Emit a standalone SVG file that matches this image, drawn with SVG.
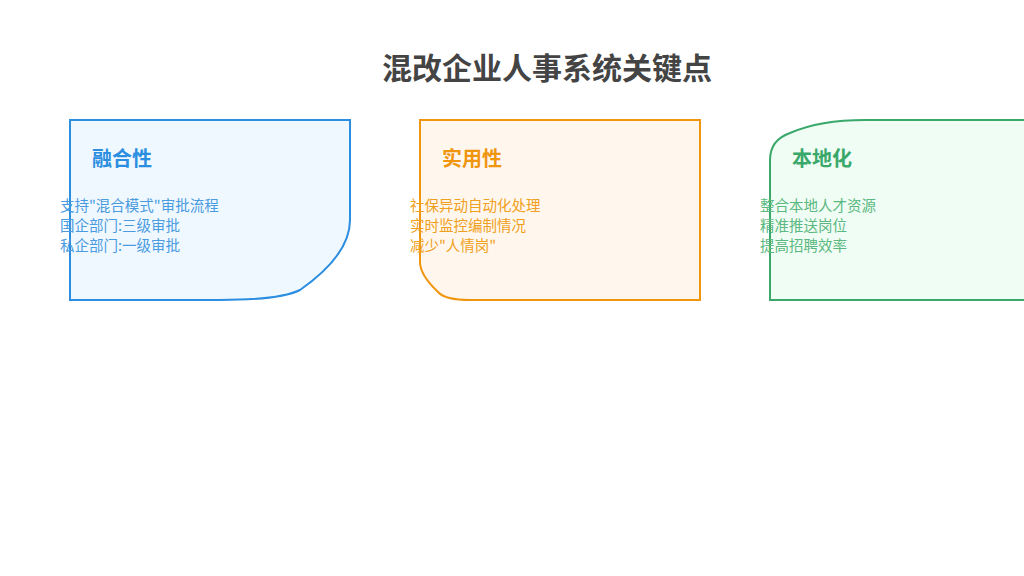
<svg xmlns="http://www.w3.org/2000/svg" width="1024" height="576" viewBox="0 0 1024 576">
<style>
text{font-family:"Noto Sans CJK SC","Noto Sans",sans-serif}
.t{font-size:30px;font-weight:bold;fill:#444}
.h{font-size:20px;font-weight:bold}
.b{font-size:14.5px}
.s{stroke-width:2}
</style>
<rect width="1024" height="576" fill="#fff"/>
<text class="t" x="547" y="79" text-anchor="middle">混改企业人事系统关键点</text>
<g id="n1">
<path class="s" d="M70,120 H350 V220 Q350,255 300,290 Q280,300 220,300 H70 Z" fill="#f0f8ff" stroke="#2b8ee0"/>
<text class="h" x="92" y="166" fill="#2b8ee0">融合性</text>
<g class="b" fill="#4a9be0"><text x="60" y="211">支持"混合模式"审批流程</text><text x="60" y="231">国企部门:三级审批</text><text x="60" y="251">私企部门:一级审批</text></g>
</g>
<g id="n2">
<path class="s" d="M420,120 H700 V300 H470 Q445,300 438,292 Q420,275 420,262 Z" fill="#fff7ee" stroke="#f0950e"/>
<text class="h" x="442" y="166" fill="#f0950e">实用性</text>
<g class="b" fill="#f0a020"><text x="410" y="211">社保异动自动化处理</text><text x="410" y="231">实时监控编制情况</text><text x="410" y="251">减少"人情岗"</text></g>
</g>
<g id="n3">
<path class="s" d="M770,300 V160 Q770,140 790,133 Q820,120 865,120 H1030 V300 Z" fill="#f0fdf4" stroke="#3aa86a"/>
<text class="h" x="792" y="166" fill="#3aa86a">本地化</text>
<g class="b" fill="#5ab880"><text x="760" y="211">整合本地人才资源</text><text x="760" y="231">精准推送岗位</text><text x="760" y="251">提高招聘效率</text></g>
</g>
<g id="connectors"/>
</svg>
